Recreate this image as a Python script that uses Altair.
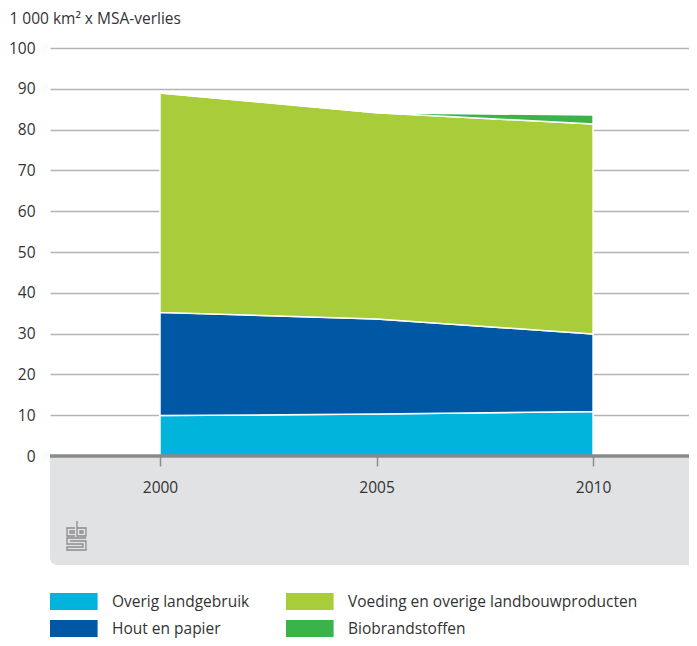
import altair as alt
import pandas as pd

# ---- data ----
years = [2000, 2005, 2010]
series_names = ["Overig landgebruik", "Hout en papier",
                "Voeding en overige landbouwproducten", "Biobrandstoffen"]
overig = [9.9, 10.3, 10.9]
hout = [25.3, 23.3, 19.0]
voeding = [53.8, 50.5, 51.5]
bio = [0.0, 0.0, 2.2]
y_ticks = [0, 10, 20, 30, 40, 50, 60, 70, 80, 90, 100]
x_ticks = [2000, 2005, 2010]
title_text = "1 000 km\u00b2 x MSA-verlies"

series_colors = ["#00B4DC", "#0057A4", "#A8CC3A", "#3AB44A"]

rows = []
for name, vals in zip(series_names, [overig, hout, voeding, bio]):
    for yr, v in zip(years, vals):
        rows.append({"year": yr, "value": v, "series": name,
                     "order": series_names.index(name)})
df = pd.DataFrame(rows)
one = pd.DataFrame({"a": [0]})

W, H = 647, 408
FONT = "Open Sans"
TXT = "#333333"
FS = 15.5

# logo path (pixel design -> unit coordinates)
def P(px, py):
    return f"{(px - 10) / 14.5:.3f},{(py - 14.5) / 14.5:.3f}"

logo_path = (
    f"M{P(9,7)}L{P(1,7)}L{P(1,15)}L{P(9,15)}"
    f"M{P(9,10)}L{P(4,10)}L{P(4,12)}L{P(9,12)}"
    f"M{P(11,0)}L{P(11,15)}L{P(20,15)}L{P(20,7)}L{P(11,7)}"
    f"M{P(14,10)}L{P(17,10)}L{P(17,12)}L{P(14,12)}Z"
    f"M{P(20,17)}L{P(1,17)}L{P(1,23)}L{P(17,23)}L{P(17,26)}L{P(1,26)}"
    f"L{P(1,29)}L{P(20,29)}L{P(20,20)}L{P(4,20)}"
)

band = alt.Chart(one).mark_rect(
    color="#E1E2E4", cornerRadiusBottomLeft=7
).encode(x=alt.value(0), x2=alt.value(W), y=alt.value(H), y2=alt.value(517))

area = alt.Chart(df).mark_area(
    stroke="white", strokeWidth=1.5, opacity=1
).encode(
    x=alt.X("year:Q", scale=alt.Scale(domain=[1997.46, 2012.4], nice=False, zero=False),
            axis=alt.Axis(values=x_ticks, format="d", title=None, domain=False,
                          grid=False, tickColor="#8C8C8C", tickSize=10, tickWidth=1.5,
                          labelPadding=14, labelFont=FONT, labelFontSize=FS,
                          labelColor=TXT, zindex=1)),
    y=alt.Y("value:Q", stack="zero",
            scale=alt.Scale(domain=[0, 100], nice=False),
            axis=alt.Axis(values=y_ticks, title=None, domain=False, ticks=False,
                          grid=True, gridColor="#B4B4B4", gridWidth=1.5,
                          labelPadding=15, labelFont=FONT, labelFontSize=FS,
                          labelColor=TXT)),
    color=alt.Color("series:N",
                    scale=alt.Scale(domain=series_names, range=series_colors),
                    legend=alt.Legend(title=None, orient="none", legendX=15.3, legendY=545,
                                      columns=2, columnPadding=36, rowPadding=10,
                                      symbolType="M-2.8,-1H2.8V1H-2.8Z", symbolSize=289,
                                      symbolStrokeWidth=0, symbolOpacity=1,
                                      labelOffset=29.7, labelFont=FONT,
                                      labelFontSize=FS, labelColor=TXT,
                                      labelLimit=0, padding=0)),
    order=alt.Order("order:Q"),
)

baseline = alt.Chart(one).mark_rule(color="#8A8A8A", strokeWidth=3.5).encode(
    y=alt.datum(0), x=alt.value(0), x2=alt.value(W))

logo = alt.Chart(one).mark_point(
    shape=logo_path, size=841, filled=False, stroke="#8C8C8C",
    strokeWidth=1.3, opacity=1
).encode(x=alt.value(26), y=alt.value(487.5))

chart = alt.layer(band, area, baseline, logo).properties(
    width=W, height=H,
    title=alt.Title(title_text, anchor="start", frame="bounds", font=FONT,
                    fontSize=FS, fontWeight="normal", color=TXT, offset=14, dx=1),
    padding={"left": 42, "top": 40, "right": -8, "bottom": 182},
    autosize=alt.AutoSizeParams(type="none"),
).configure_view(stroke=None)

chart.save("out.html", embed_options={"renderer": "svg", "actions": False})
